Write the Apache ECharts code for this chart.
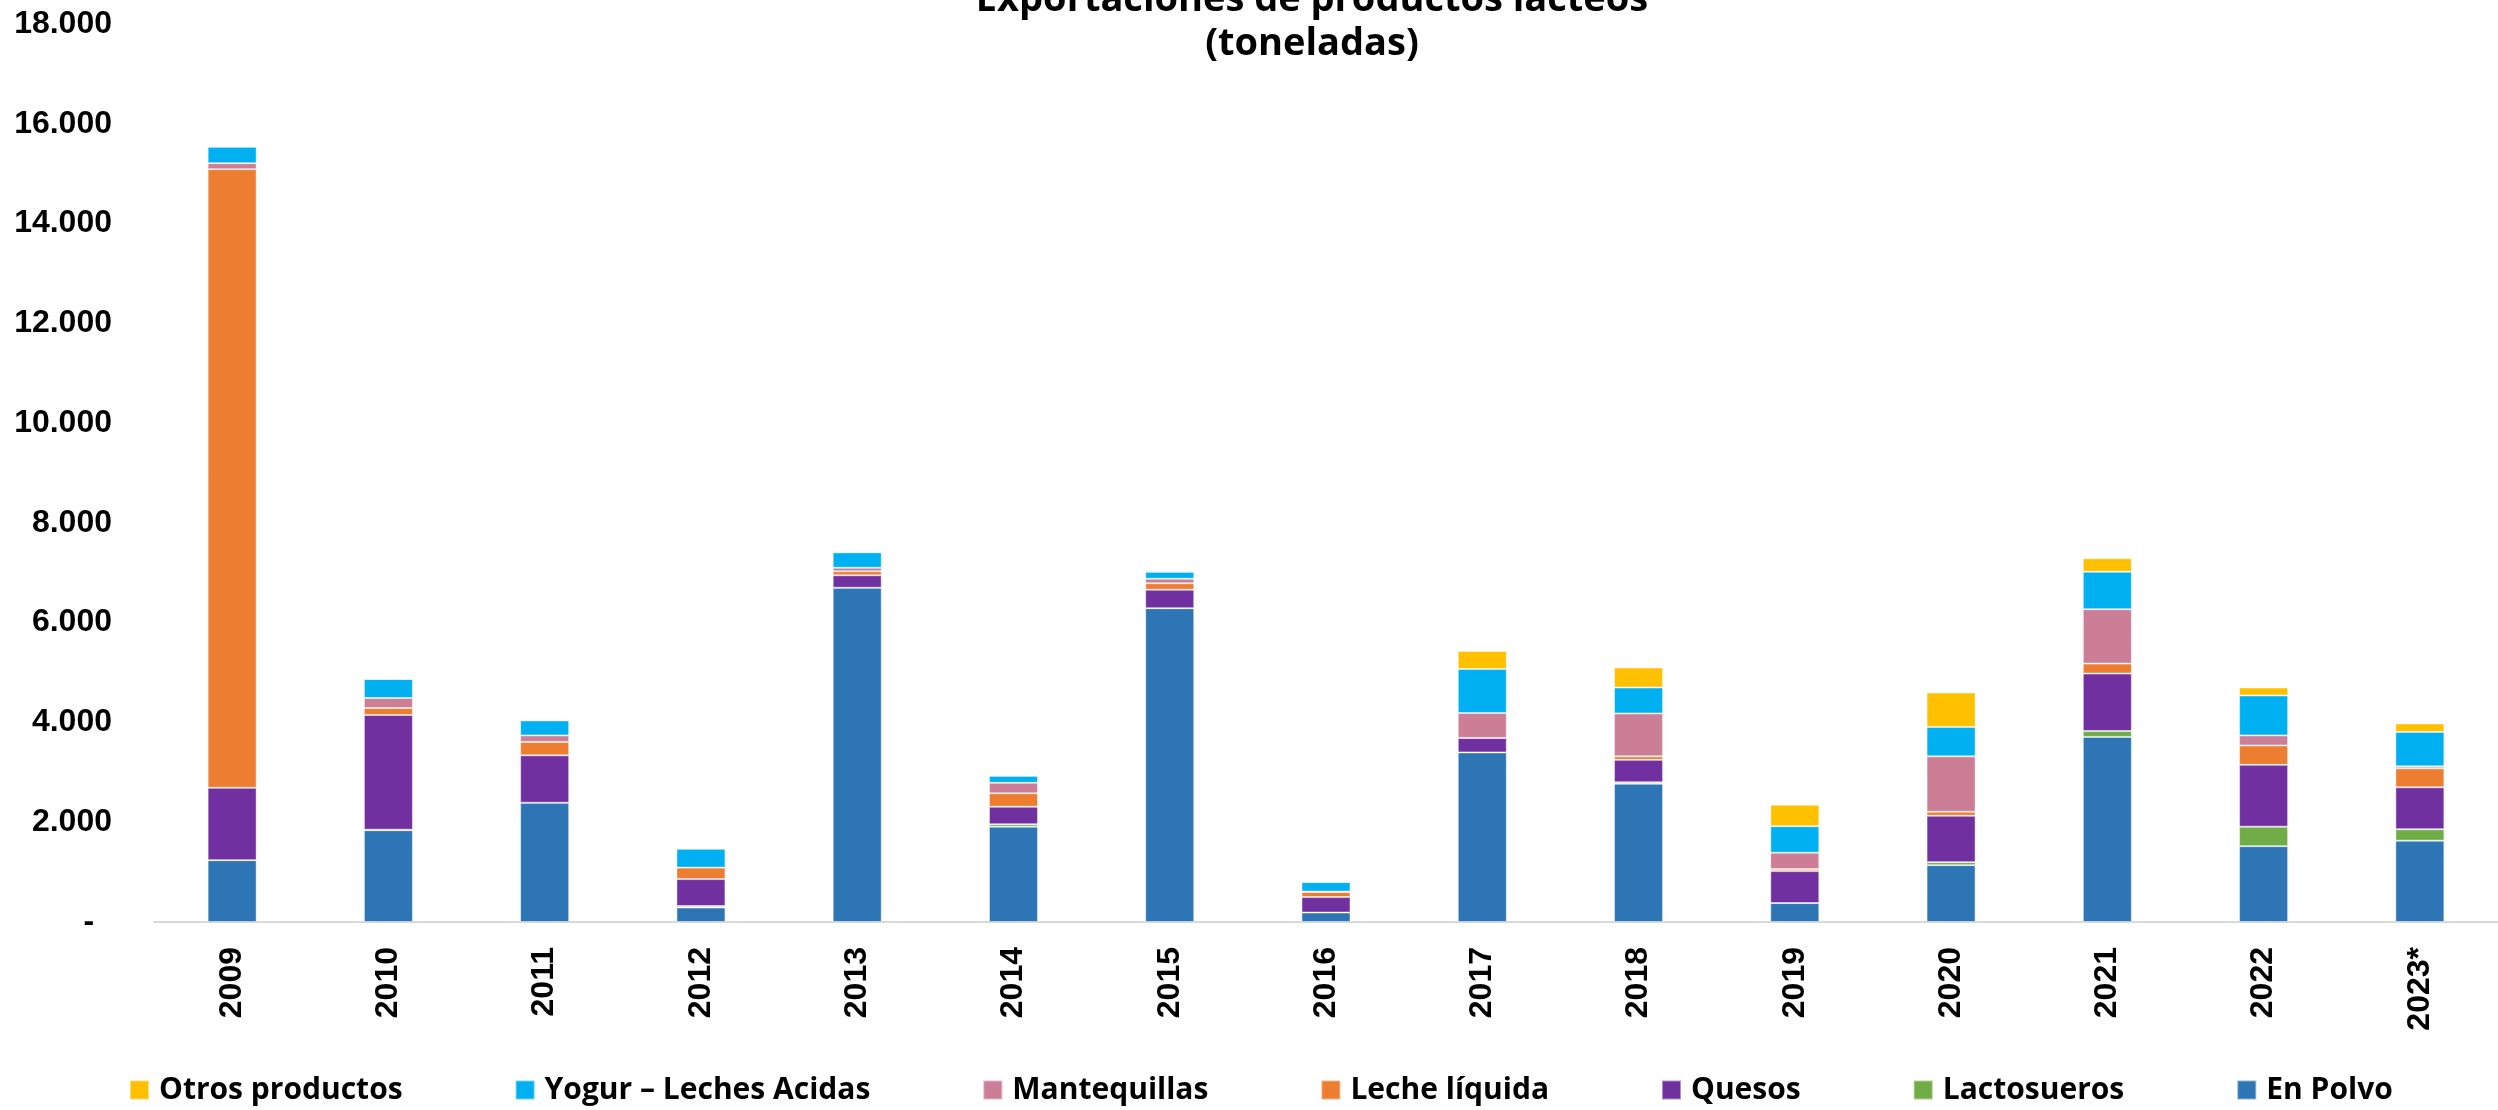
<!DOCTYPE html>
<html>
<head>
<meta charset="utf-8">
<script src="https://cdn.jsdelivr.net/npm/echarts@6/dist/echarts.min.js"></script>
<style>
html,body{margin:0;padding:0;background:#fff;}
#chart{width:2498px;height:1110px;}
</style>
</head>
<body>
<div id="chart"></div>
<script>
const categories = ['2009','2010','2011','2012','2013','2014','2015','2016','2017','2018','2019','2020','2021','2022','2023*'];
const enPolvo      = [1240,1840,2390, 290,6700,1910,6290, 190,3400,2770, 380,1140,3710,1520,1630];
const lactosueros  = [   0,  10,   0,  30,   0,  50,   0,   0,   0,  30,   0,  60, 120, 390, 230];
const quesos       = [1450,2300, 950, 540, 250, 350, 370, 310, 290, 450, 640, 930,1150,1240, 840];
const lecheLiquida = [12400,140, 270, 230,  80, 270, 130, 100,   0,  70,  40,  80, 200, 390, 380];
const mantequillas = [ 120, 200, 130,   0,  70, 210,  90,  10, 500, 860, 330,1110,1090, 200,  40];
const yogur        = [ 330, 380, 300, 380, 310, 140, 140, 190, 880, 520, 530, 590, 750, 800, 690];
const otros        = [   0,   0,   0,   0,   0,   0,   0,   0, 360, 400, 430, 690, 270, 160, 170];
const yTicks = [0,2000,4000,6000,8000,10000,12000,14000,16000,18000];

const seriesDefs = [
  {name:'En Polvo', data:enPolvo, color:'#2E75B6'},
  {name:'Lactosueros', data:lactosueros, color:'#70AD47'},
  {name:'Quesos', data:quesos, color:'#7030A0'},
  {name:'Leche líquida', data:lecheLiquida, color:'#ED7D31'},
  {name:'Mantequillas', data:mantequillas, color:'#CC7E96'},
  {name:'Yogur – Leches Acidas', data:yogur, color:'#00B0F0'},
  {name:'Otros productos', data:otros, color:'#FFC000'}
];

const chart = echarts.init(document.getElementById('chart'), null, {renderer:'canvas'});
const option = {
  backgroundColor:'#ffffff',
  animation:false,
  title:{
    text:'Exportaciones de productos lácteos\n(toneladas)',
    left:1312, top:-22, padding:0,
    textAlign:'center',
    textStyle:{fontFamily:'Open Sans', fontWeight:'bold', fontSize:38, lineHeight:44, color:'#000'}
  },
  legend:{
    data:['Otros productos','Yogur – Leches Acidas','Mantequillas','Leche líquida','Quesos','Lactosueros','En Polvo'],
    left:129, top:1075, padding:0,
    itemWidth:19, itemHeight:19, itemGap:112,
    icon:'rect',
    textStyle:{fontFamily:'Open Sans', fontWeight:'bold', fontSize:30, color:'#000', padding:[0,0,0,5]}
  },
  grid:{left:154, top:24, width:2350, height:898, containLabel:false},
  xAxis:{
    type:'category', data:categories,
    axisLine:{show:true, lineStyle:{color:'#d9d9d9', width:2}},
    axisTick:{show:false},
    axisLabel:{rotate:90, margin:25, fontFamily:'Liberation Sans', fontWeight:'bold', fontSize:32, color:'#000'}
  },
  yAxis:{
    type:'value', min:0, max:18000, interval:2000,
    axisLine:{show:false}, axisTick:{show:false}, splitLine:{show:false},
    axisLabel:{margin:42, fontFamily:'Liberation Sans', fontWeight:'bold', fontSize:32, color:'#000',
      formatter:function(v){ return v===0 ? '-  ' : v.toLocaleString('de-DE'); }}
  },
  series: seriesDefs.map(s=>({
    name:s.name, type:'bar', stack:'total', barWidth:49,
    data:s.data,
    itemStyle:{color:s.color, borderColor:'rgba(255,255,255,0.45)', borderWidth:1}
  }))
};
chart.setOption(option);
</script>
</body>
</html>
